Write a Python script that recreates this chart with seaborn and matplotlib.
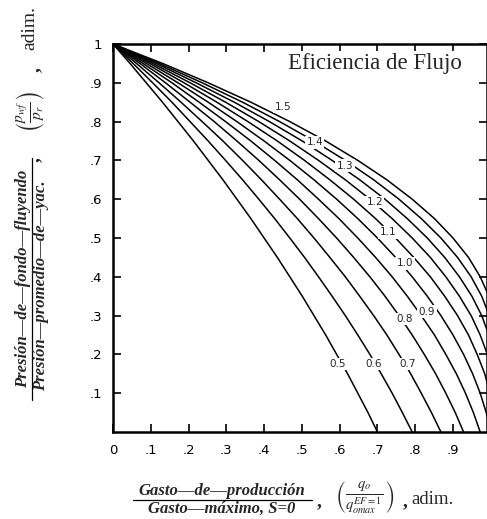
import numpy as np
import pandas as pd
import matplotlib
matplotlib.use("Agg")
import matplotlib.pyplot as plt
from matplotlib.lines import Line2D
import seaborn as sns

# ---- data: q/qmax(S=0) at Pwf/Pr = 1.00, 0.95, ..., 0.00 ----
p_levels = [1.00, 0.95, 0.90, 0.85, 0.80, 0.75, 0.70, 0.65, 0.60, 0.55, 0.50,
            0.45, 0.40, 0.35, 0.30, 0.25, 0.20, 0.15, 0.10, 0.05, 0.00]
fe_05 = [0, .045, .088, .131, .172, .213, .252, .291, .328, .365, .400,
         .435, .468, .501, .532, .563, .592, .621, .648, .675, .700]
fe_06 = [0, .053, .105, .156, .204, .252, .298, .343, .386, .428, .468,
         .507, .544, .580, .615, .648, .680, .710, .739, .766, .792]
fe_07 = [0, .062, .122, .180, .236, .291, .343, .393, .441, .488, .532,
         .574, .615, .653, .690, .725, .757, .788, .816, .843, .868]
fe_08 = [0, .071, .139, .204, .268, .328, .386, .441, .494, .544, .592,
         .637, .680, .720, .757, .792, .824, .854, .881, .906, .928]
fe_09 = [0, .079, .156, .228, .298, .365, .428, .488, .544, .598, .648,
         .695, .739, .779, .816, .851, .881, .909, .933, .954, .972]
fe_10 = [0, .088, .172, .252, .328, .400, .468, .532, .592, .648, .700,
         .748, .792, .832, .868, .900, .928, .952, .972, .988, 1.0]
fe_11 = [0, .097, .188, .275, .357, .435, .507, .574, .637, .695, .748,
         .796, .840, .878, .912, .941, .964, .984, .998]
fe_12 = [0, .105, .204, .298, .386, .468, .544, .615, .680, .739, .792,
         .840, .881, .917, .948, .972, .991, 1.004]
fe_13 = [0, .114, .220, .321, .414, .501, .580, .653, .720, .779, .832,
         .878, .917, .950, .976, .995]
fe_14 = [0, .122, .236, .343, .441, .532, .615, .690, .757, .816, .868,
         .912, .948, .976, .996]
fe_15 = [0, .131, .252, .365, .468, .563, .648, .725, .792, .851, .900,
         .941, .972, .995]

fe_names = ["0.5", "0.6", "0.7", "0.8", "0.9", "1.0", "1.1", "1.2", "1.3", "1.4", "1.5"]
fe_series = [fe_05, fe_06, fe_07, fe_08, fe_09, fe_10, fe_11, fe_12, fe_13, fe_14, fe_15]

# curve label positions (q, p)
label_text = ["0.5", "0.6", "0.7", "0.8", "0.9", "1.0", "1.1", "1.2", "1.3", "1.4", "1.5"]
label_x = [.595, .690, .780, .773, .831, .773, .728, .693, .614, .534, .450]
label_y = [.175, .175, .175, .291, .310, .435, .515, .593, .686, .747, .838]

x_ticks = [0, .1, .2, .3, .4, .5, .6, .7, .8, .9]
x_ticklabels = ["0", ".1", ".2", ".3", ".4", ".5", ".6", ".7", ".8", ".9"]
y_ticks = [.1, .2, .3, .4, .5, .6, .7, .8, .9, 1.0]
y_ticklabels = [".1", ".2", ".3", ".4", ".5", ".6", ".7", ".8", ".9", "1"]

rows = []
for name, xs in zip(fe_names, fe_series):
    for q, p in zip(xs, p_levels):
        rows.append({"FE": name, "q": q, "p": p})
df = pd.DataFrame(rows)

sns.set_theme(style="white")
plt.rcParams["font.family"] = ["DejaVu Sans"]
plt.rcParams["mathtext.fontset"] = "stix"

fig = plt.figure(figsize=(4.87, 5.19), dpi=100)
W, H = 487, 519
ax = fig.add_axes([113 / W, 1 - 432 / H, 374 / W, 388 / H])

sns.lineplot(data=df, x="q", y="p", hue="FE", palette=["black"] * len(fe_names),
             sort=False, estimator=None, legend=False, linewidth=1.1, ax=ax)

ax.set_xlim(0, 0.99)
ax.set_ylim(0, 1.0)

for tx, lx, ly in zip(label_text, label_x, label_y):
    ax.text(lx, ly, tx, fontsize=7.5, ha="center", va="center", zorder=5,
            bbox=dict(facecolor="white", edgecolor="none", pad=1.0))

ax.text(0.70, 0.951, "Eficiencia de Flujo", transform=ax.transAxes,
        fontsize=16.5, family="Liberation Serif", ha="center", va="center", zorder=6,
        bbox=dict(facecolor="white", edgecolor="none", pad=1.0))

ax.set_xticks(x_ticks)
ax.set_xticklabels(x_ticklabels)
ax.set_yticks(y_ticks)
ax.set_yticklabels(y_ticklabels)
ax.tick_params(axis="both", direction="in", length=6, width=1.2, colors="black",
               labelsize=9.5, top=True, right=True, bottom=True, left=True)
ax.tick_params(axis="x", pad=9)
ax.tick_params(axis="y", pad=8)
ax.set_xlabel("")
ax.set_ylabel("")
for side in ["left", "bottom", "top", "right"]:
    ax.spines[side].set_visible(True)
    ax.spines[side].set_color("black")
    ax.spines[side].set_linewidth(1.8)

def px(x, y):
    return x / W, 1 - y / H

lab_font = dict(family="Liberation Serif", style="italic", weight="bold", fontsize=12)
serif = dict(family="Liberation Serif")

# ---- x-axis label: stacked fraction + tail ----
fig.text(*px(222, 491), "Gasto—de—producción", ha="center", va="center", **lab_font)
fig.text(*px(222, 509), "Gasto—máximo, S=0", ha="center", va="center", **lab_font)
fig.add_artist(Line2D([133 / W, 312 / W], [1 - 500 / H, 1 - 500 / H],
                      color="black", lw=0.9, transform=fig.transFigure))
fig.text(*px(319, 502), ",", ha="center", va="center", fontsize=14, weight="bold", **serif)
fig.text(*px(365, 498), r"$\left(\frac{q_o}{q_{omax}^{EF=1}}\right)$",
         ha="center", va="center", fontsize=15, **serif)
fig.text(*px(405, 502), ",", ha="center", va="center", fontsize=14, weight="bold", **serif)
fig.text(*px(433, 499), "adim.", ha="center", va="center", fontsize=13.5, **serif)

# ---- y-axis label: rotated stacked fraction + tail ----
fig.text(*px(23, 279), "Presión—de—fondo—fluyendo", ha="center", va="center",
         rotation=90, **lab_font)
fig.text(*px(41, 286), "Presión—promedio—de—yac.", ha="center", va="center",
         rotation=90, **lab_font)
fig.add_artist(Line2D([32 / W, 32 / W], [1 - 400 / H, 1 - 158 / H],
                      color="black", lw=0.9, transform=fig.transFigure))
fig.text(*px(34, 160), ",", ha="center", va="center", rotation=90, fontsize=14,
         weight="bold", **serif)
fig.text(*px(31, 112), r"$\left(\frac{p_{wf}}{p_r}\right)$", ha="center", va="center",
         rotation=90, fontsize=16, **serif)
fig.text(*px(34, 70), ",", ha="center", va="center", rotation=90, fontsize=14,
         weight="bold", **serif)
fig.text(*px(30, 28), "adim.", ha="center", va="center", rotation=90, fontsize=14, **serif)

fig.savefig("out.png", dpi=100)
